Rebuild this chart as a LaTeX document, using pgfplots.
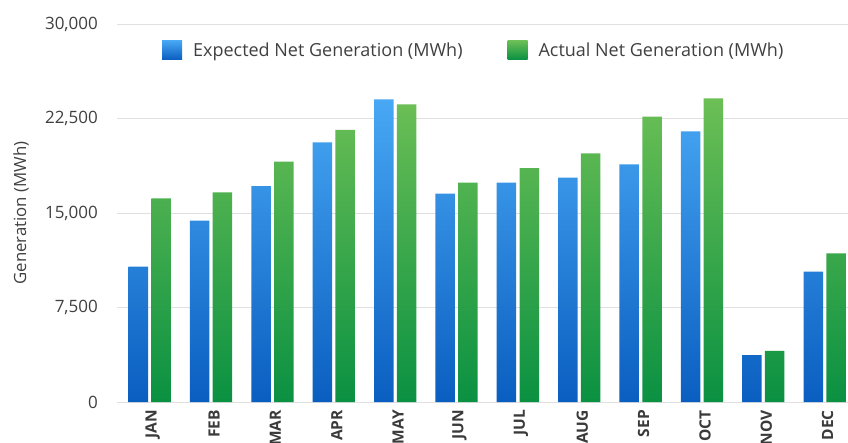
\documentclass[border=0pt]{standalone}
\usepackage{pgfplots}
\pgfplotsset{compat=1.18}
\usepackage{fontspec}
\setmainfont{Open Sans}
\definecolor{bluetop}{HTML}{48A8F4}
\definecolor{bluebot}{HTML}{0A5EC0}
\definecolor{greentop}{HTML}{6CBF55}
\definecolor{greenbot}{HTML}{0A9142}
\definecolor{txt}{HTML}{404040}
\begin{document}
\begin{tikzpicture}
\useasboundingbox (-117bp,-41bp) rectangle (731bp,402bp);
\clip (-117bp,-41bp) rectangle (731bp,402bp);
\begin{axis}[
  at={(0,0)}, anchor=south west,
  scale only axis, width=731bp, height=378bp,
  ybar=3.3bp, bar width=19.5bp,
  xmin=-0.533, xmax=11.38,
  ymin=0, ymax=30000,
  xtick=data,
  xticklabels={JAN,FEB,MAR,APR,MAY,JUN,JUL,AUG,SEP,OCT,NOV,DEC},
  ytick={0,7500,15000,22500,30000},
  scaled y ticks=false,
  /pgf/number format/.cd, 1000 sep={,}, assume math mode=true, /pgfplots/.cd,
  ymajorgrids, grid style={draw=black!12, line width=0.9bp},
  axis line style={draw=none},
  major tick length=0pt,
  tick style={draw=none},
  yticklabel style={font=\fontsize{17bp}{20bp}\selectfont, text=txt, inner xsep=0pt, xshift=-19bp},
  xticklabel style={font=\fontsize{15.5bp}{18bp}\selectfont\bfseries, text=txt!90!black, xshift=3bp, yshift=-8bp, rotate=90, anchor=east, inner xsep=0pt, inner ysep=0pt},
  ylabel={Generation (MWh)},
  ylabel style={font=\fontsize{16.8bp}{19bp}\selectfont, text=txt, at={(axis description cs:-0.1313,0.5)}, anchor=center},
  legend style={draw=none, fill=none, legend columns=2, at={(axis description cs:0.488,0.931)}, anchor=center,
    font=\fontsize{18bp}{20bp}\selectfont, text=txt,
    /tikz/every odd column/.append style={column sep=9bp},
    /tikz/every even column/.append style={column sep=43bp}},
  legend image code/.code={\path[#1, draw=none] (0bp,-9.5bp) rectangle (20bp,9.5bp);},
]
\addplot[draw=none, top color=bluetop, bottom color=bluebot] coordinates {
(0,10740) (1,14390) (2,17140) (3,20610) (4,24020) (5,16530)
(6,17410) (7,17800) (8,18860) (9,21480) (10,3730) (11,10340)};
\addplot[draw=none, top color=greentop, bottom color=greenbot] coordinates {
(0,16170) (1,16640) (2,19070) (3,21590) (4,23620) (5,17410)
(6,18570) (7,19740) (8,22650) (9,24100) (10,4050) (11,11800)};
\legend{Expected Net Generation (MWh), Actual Net Generation (MWh)}
\end{axis}
\end{tikzpicture}
\end{document}
